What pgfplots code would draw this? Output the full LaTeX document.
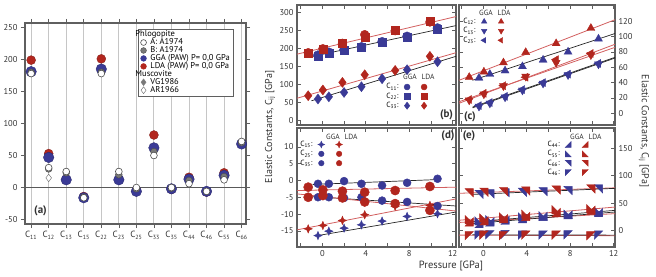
\documentclass[border=0pt]{standalone}
\usepackage{pgfplots}
\pgfplotsset{compat=1.18}
\usepackage{fontspec}
\setmainfont{PT Sans}
\definecolor{gblue}{RGB}{58,58,150}
\definecolor{lred}{RGB}{178,38,30}
\definecolor{lnred}{RGB}{210,95,95}
\definecolor{axgray}{RGB}{95,95,95}
\definecolor{txt}{RGB}{50,50,50}
\definecolor{bgray}{RGB}{120,120,120}

\pgfdeclareplotmark{star4}{%
 \pgfpathmoveto{\pgfpoint{0pt}{\pgfplotmarksize}}%
 \pgfpathlineto{\pgfpoint{0.3\pgfplotmarksize}{0.3\pgfplotmarksize}}%
 \pgfpathlineto{\pgfpoint{\pgfplotmarksize}{0pt}}%
 \pgfpathlineto{\pgfpoint{0.3\pgfplotmarksize}{-0.3\pgfplotmarksize}}%
 \pgfpathlineto{\pgfpoint{0pt}{-\pgfplotmarksize}}%
 \pgfpathlineto{\pgfpoint{-0.3\pgfplotmarksize}{-0.3\pgfplotmarksize}}%
 \pgfpathlineto{\pgfpoint{-\pgfplotmarksize}{0pt}}%
 \pgfpathlineto{\pgfpoint{-0.3\pgfplotmarksize}{0.3\pgfplotmarksize}}%
 \pgfpathclose\pgfusepathqfillstroke}
\pgfdeclareplotmark{rtBR}{%
 \pgfpathmoveto{\pgfpoint{\pgfplotmarksize}{-\pgfplotmarksize}}%
 \pgfpathlineto{\pgfpoint{\pgfplotmarksize}{\pgfplotmarksize}}%
 \pgfpathlineto{\pgfpoint{-\pgfplotmarksize}{-\pgfplotmarksize}}%
 \pgfpathclose\pgfusepathqfillstroke}
\pgfdeclareplotmark{rtBL}{%
 \pgfpathmoveto{\pgfpoint{-\pgfplotmarksize}{-\pgfplotmarksize}}%
 \pgfpathlineto{\pgfpoint{-\pgfplotmarksize}{\pgfplotmarksize}}%
 \pgfpathlineto{\pgfpoint{\pgfplotmarksize}{-\pgfplotmarksize}}%
 \pgfpathclose\pgfusepathqfillstroke}
\pgfdeclareplotmark{rtTR}{%
 \pgfpathmoveto{\pgfpoint{-\pgfplotmarksize}{\pgfplotmarksize}}%
 \pgfpathlineto{\pgfpoint{\pgfplotmarksize}{\pgfplotmarksize}}%
 \pgfpathlineto{\pgfpoint{\pgfplotmarksize}{-\pgfplotmarksize}}%
 \pgfpathclose\pgfusepathqfillstroke}
\pgfdeclareplotmark{rtTL}{%
 \pgfpathmoveto{\pgfpoint{-\pgfplotmarksize}{\pgfplotmarksize}}%
 \pgfpathlineto{\pgfpoint{\pgfplotmarksize}{\pgfplotmarksize}}%
 \pgfpathlineto{\pgfpoint{-\pgfplotmarksize}{-\pgfplotmarksize}}%
 \pgfpathclose\pgfusepathqfillstroke}

\pgfplotsset{
 panel/.style={scale only axis, anchor=south west,
   axis line style={axgray,line width=1.1pt},
   every tick/.style={axgray,line width=0.6pt},
   major tick length=4pt, minor tick length=4pt,
   tick label style={font=\fontsize{8.5}{9.5}\selectfont, text=txt},
   /pgf/number format/assume math mode=true},
 lgm/.style={legend image code/.code={\draw[##1] plot coordinates {(0pt,0pt)};}},
 mk/.style={only marks, mark options={draw=black!80, line width=0.3pt}},
 gg/.style={mk, color=gblue, mark options={fill=gblue}},
 ll/.style={mk, color=lred, mark options={fill=lred}},
 fitr/.style={lnred, line width=0.8pt, forget plot},
 fitk/.style={black!85, line width=0.7pt, forget plot},
 pleg/.style={legend plot pos=right, legend columns=2,
   legend style={draw=none, fill=none, font=\fontsize{7.5}{8.5}\selectfont,
     inner sep=0pt, /tikz/column sep=4.5pt, row sep=0.5pt,
     nodes={inner xsep=1pt, inner ysep=1pt}}},
 pb/.style={mk, lgm},
 al/.style={only marks, lgm, mark size=2.9pt},
}

\begin{document}
\begin{tikzpicture}[x=1pt,y=1pt]
\useasboundingbox (0,0) rectangle (656,276);

% ---------------- (a)
\begin{axis}[panel, at={(25pt,52pt)}, width=221pt, height=201pt,
 xmin=-0.35, xmax=12.25, ymin=-57, ymax=257,
 xtick={0,...,12},
 xticklabels={C\textsubscript{11},C\textsubscript{12},C\textsubscript{13},C\textsubscript{15},C\textsubscript{22},C\textsubscript{23},C\textsubscript{25},C\textsubscript{33},C\textsubscript{35},C\textsubscript{44},C\textsubscript{46},C\textsubscript{55},C\textsubscript{66}},
 x tick label style={font=\fontsize{9}{10}\selectfont},
 ytick={-50,0,...,250},
 tick align=outside, xtick pos=both, xticklabel pos=lower, ytick pos=both, yticklabel pos=left,
 xmajorgrids, major grid style={gray!45, line width=0.9pt},
 legend style={at={(0.941,0.972)}, anchor=north east, draw=axgray, fill=white,
   font=\fontsize{8.5}{9.5}\selectfont, inner xsep=2pt, inner ysep=1pt, row sep=-1.6pt,
   /tikz/column sep=3pt, nodes={inner ysep=1pt, inner xsep=1pt}},
 legend cell align=left]
\addplot[gray!70!black, line width=0.8pt, forget plot] coordinates {(-0.35,0) (12.25,0)};
\addplot[only marks, mark=diamond*, mark size=3.8pt, mark options={fill=bgray, draw=gray}, forget plot] coordinates {(1,30)};
\addplot[only marks, mark=diamond*, mark size=3.8pt, mark options={fill=white, draw=gray!80!black}, forget plot] coordinates {(1,15)};
\addplot[only marks, mark=*, mark size=4.5pt, mark options={fill=lred, draw=lred!70!black, line width=0.3pt}, forget plot] coordinates {
(0,199) (1,53) (2,13) (3,-14) (4,201) (5,13) (6,-4) (7,82) (8,-3) (9,16) (10,-7) (11,23) (12,69)};
\addplot[only marks, mark=*, mark size=5.3pt, mark options={fill=gblue, draw=gblue!70!black, line width=0.3pt}, forget plot] coordinates {
(0,181) (1,47) (2,12) (3,-16) (4,185) (5,12) (6,-6) (7,62) (8,-2) (9,13) (10,-6) (11,19) (12,68)};
\addplot[only marks, mark=*, mark size=3.4pt, mark options={fill=bgray, draw=gray!60!black, line width=0.4pt}, forget plot] coordinates {
(0,180) (1,29) (2,23) (3,-15) (4,180) (5,20) (6,-2) (7,56) (8,-1) (9,11) (10,-6) (11,17) (12,70)};
\addplot[only marks, mark=*, mark size=3.4pt, mark options={fill=white, draw=gray!60!black, line width=0.6pt}, forget plot] coordinates {
(0,178) (1,31) (2,25) (3,-16) (4,178) (5,25) (6,0) (7,50) (8,0) (9,6) (10,-6) (11,12) (12,72)};
\addlegendimage{empty legend}\addlegendentry{\hspace*{-15pt}Phlogopite}
\addlegendimage{al, mark=*, mark options={fill=white, draw=gray!60!black, line width=0.6pt}}\addlegendentry{A: A1974}
\addlegendimage{al, mark=*, mark options={fill=bgray, draw=gray!60!black}}\addlegendentry{B: A1974}
\addlegendimage{al, mark=*, mark options={fill=gblue, draw=gblue}}\addlegendentry{GGA (PAW) P= 0,0 GPa}
\addlegendimage{al, mark=*, mark options={fill=lred, draw=lred}}\addlegendentry{LDA (PAW) P= 0,0 GPa}
\addlegendimage{empty legend}\addlegendentry{\hspace*{-15pt}Muscovite}
\addlegendimage{al, mark=diamond*, mark size=3.4pt, mark options={fill=bgray, draw=gray}}\addlegendentry{VG1986}
\addlegendimage{al, mark=diamond*, mark size=3.4pt, mark options={fill=white, draw=gray!80!black}}\addlegendentry{AR1966}
\end{axis}

% ---------------- (b)
\begin{axis}[panel, pleg, at={(297pt,151pt)}, width=159pt, height=120pt,
 xmin=-2.33, xmax=12.3, ymin=-12, ymax=320,
 xtick={0,4,8,12}, minor xtick={-2,2,6,10}, xticklabels={},
 ytick={0,50,...,300}, xtick pos=both, ytick pos=both, yticklabel pos=left,
 legend style={at={(0.555,0.355)}, anchor=north west}]
\addplot[fitr] coordinates {(-2.33,184) (12.3,288)};
\addplot[fitk] coordinates {(-1,177) (12.3,263)};
\addplot[fitr] coordinates {(-2.33,62) (12.3,188)};
\addplot[fitk] coordinates {(-1,55) (12.3,178)};
\addplot[gg, mark=square*, mark size=4pt, forget plot] coordinates {(-0.4,179) (0.6,187) (2.0,195) (3.6,203) (5.5,216) (7.8,232) (10.6,254)};
\addplot[gg, mark=*, mark size=4.6pt, forget plot] coordinates {(-0.4,181) (0.6,189) (2.0,196) (3.6,204) (5.5,218) (7.8,233) (10.6,256)};
\addplot[gg, mark=diamond*, mark size=5pt, forget plot] coordinates {(-0.4,60) (0.6,66) (2.0,78) (3.6,94) (5.5,116) (7.8,141) (10.6,163)};
\addplot[ll, mark=*, mark size=4.4pt, forget plot] coordinates {(-1.3,188) (0.05,199) (1.85,214) (3.9,238) (6.7,249) (9.9,273)};
\addplot[ll, mark=square*, mark size=4pt, forget plot] coordinates {(-1.3,187) (0.05,199) (1.85,215) (3.9,232) (6.7,250) (9.9,274)};
\addplot[ll, mark=diamond*, mark size=5pt, forget plot] coordinates {(-1.3,69) (0.05,85) (1.85,106) (3.9,127) (6.7,139) (9.9,178)};
\addlegendimage{pb, gblue, mark=*, mark size=3pt, mark options={fill=gblue}}\addlegendentry{C\textsubscript{11}:}
\addlegendimage{pb, lred, mark=*, mark size=3pt, mark options={fill=lred}}\addlegendentry{}
\addlegendimage{pb, gblue, mark=square*, mark size=3pt, mark options={fill=gblue}}\addlegendentry{C\textsubscript{22}:}
\addlegendimage{pb, lred, mark=square*, mark size=3pt, mark options={fill=lred}}\addlegendentry{}
\addlegendimage{pb, gblue, mark=diamond*, mark size=3.6pt, mark options={fill=gblue}}\addlegendentry{C\textsubscript{33}:}
\addlegendimage{pb, lred, mark=diamond*, mark size=3.6pt, mark options={fill=lred}}\addlegendentry{}
\end{axis}

% ---------------- (c)
\begin{axis}[panel, pleg, at={(459pt,151pt)}, width=156pt, height=120pt,
 xmin=-2.24, xmax=12.12, ymin=-15.3, ymax=141.2,
 xtick={0,4,8,12}, minor xtick={-2,2,6,10}, xticklabels={},
 ytick={0,20,...,120}, xtick pos=both, ytick pos=both, yticklabel pos=right,
 legend style={at={(0.02,0.9)}, anchor=north west}]
\addplot[fitr] coordinates {(-2.24,43) (12.12,122)};
\addplot[fitk] coordinates {(-1,43) (12.12,104)};
\addplot[fitr] coordinates {(-2.24,13) (12.12,90)};
\addplot[fitr] coordinates {(-2.24,15) (12.12,86)};
\addplot[fitk] coordinates {(-1,7) (12.12,72)};
\addplot[fitk] coordinates {(-1,8) (12.12,73)};
\addplot[gg, mark=triangle*, mark size=4.6pt, forget plot] coordinates {(-0.4,46) (0.6,51) (2.0,55.5) (3.6,61) (5.5,69.5) (7.8,80) (10.6,97)};
\addplot[gg, mark=triangle*, mark size=4.6pt, mark options={rotate=90}, forget plot] coordinates {(-0.4,10) (0.6,14) (2.0,22) (3.6,31) (5.5,40) (7.8,51) (10.6,65)};
\addplot[gg, mark=triangle*, mark size=4.6pt, mark options={rotate=180}, forget plot] coordinates {(-0.4,9) (0.6,13) (2.0,21) (3.6,30) (5.5,39) (7.8,50) (10.6,64)};
\addplot[ll, mark=triangle*, mark size=4.6pt, forget plot] coordinates {(-1.3,47) (0.05,54) (1.85,66) (3.9,79.5) (6.7,91) (9.9,111)};
\addplot[ll, mark=triangle*, mark size=4.6pt, mark options={rotate=90}, forget plot] coordinates {(-1.3,18) (0.05,26) (1.85,36) (3.9,47) (6.7,70) (9.9,78)};
\addplot[ll, mark=triangle*, mark size=4.6pt, mark options={rotate=180}, forget plot] coordinates {(-1.3,17) (0.05,25) (1.85,35.6) (3.9,48) (6.7,66) (9.9,76)};
\addlegendimage{pb, gblue, mark=triangle*, mark size=3.2pt, mark options={fill=gblue}}\addlegendentry{C\textsubscript{12}:}
\addlegendimage{pb, lred, mark=triangle*, mark size=3.2pt, mark options={fill=lred}}\addlegendentry{}
\addlegendimage{pb, gblue, mark=triangle*, mark size=3.2pt, mark options={fill=gblue, rotate=180}}\addlegendentry{C\textsubscript{13}:}
\addlegendimage{pb, lred, mark=triangle*, mark size=3.2pt, mark options={fill=lred, rotate=180}}\addlegendentry{}
\addlegendimage{pb, gblue, mark=triangle*, mark size=3.2pt, mark options={fill=gblue, rotate=90}}\addlegendentry{C\textsubscript{23}:}
\addlegendimage{pb, lred, mark=triangle*, mark size=3.2pt, mark options={fill=lred, rotate=90}}\addlegendentry{}
\end{axis}

% ---------------- (d)
\begin{axis}[panel, pleg, at={(297pt,29pt)}, width=159pt, height=119pt,
 xmin=-2.33, xmax=12.3, ymin=-19.8, ymax=15.6,
 xtick={0,4,8,12}, minor xtick={-2,2,6,10},
 ytick={-15,-10,...,10}, xtick pos=both, xticklabel pos=lower, ytick pos=both, yticklabel pos=left,
 legend style={at={(0.013,0.9)}, anchor=north west}]
\addplot[fitk] coordinates {(-0.9,-1.2) (10.9,0.3)};
\addplot[fitr] coordinates {(-2.33,-3) (12.3,-2)};
\addplot[fitk] coordinates {(-0.9,-4.8) (12.3,-7.6)};
\addplot[fitr] coordinates {(-2.33,-4) (12.3,-9.1)};
\addplot[fitr] coordinates {(-2.33,-14.7) (12.3,-5.5)};
\addplot[fitk] coordinates {(-0.6,-16.5) (12.3,-9.4)};
\addplot[gg, mark=*, mark size=4pt, forget plot] coordinates {(-0.4,-1.0) (0.6,-1.0) (2.0,-0.2) (3.6,-1.0) (5.5,-1.5) (7.8,-0.7) (10.6,0.5)};
\addplot[gg, mark=*, mark size=4pt, forget plot] coordinates {(-0.4,-5.0) (0.6,-5.0) (2.0,-5.2) (3.6,-5.0) (5.5,-6.0) (7.8,-6.4) (10.6,-7.6)};
\addplot[gg, mark=star4, mark size=4.2pt, forget plot] coordinates {(-0.4,-16.4) (0.6,-15.1) (2.0,-14.2) (3.6,-13.2) (5.5,-12.1) (7.8,-10.7) (10.6,-9.9)};
\addplot[ll, mark=*, mark size=4.6pt, forget plot] coordinates {(-1.3,-2.0) (0.05,-2.8) (1.85,-3.2) (3.9,-3.5) (6.7,-3.0) (9.9,-1.8)};
\addplot[ll, mark=*, mark size=4.6pt, forget plot] coordinates {(-1.3,-5.0) (0.05,-4.5) (1.85,-5.2) (3.9,-6.4) (6.7,-6.9) (9.9,-8.9)};
\addplot[ll, mark=star4, mark size=4.2pt, forget plot] coordinates {(-1.3,-14.4) (0.05,-13.4) (1.85,-11.9) (3.9,-10.2) (6.7,-7.7) (9.9,-7.4)};
\addlegendimage{pb, gblue, mark=star4, mark size=3.4pt, mark options={fill=gblue}}\addlegendentry{C\textsubscript{15}:}
\addlegendimage{pb, lred, mark=star4, mark size=3.4pt, mark options={fill=lred}}\addlegendentry{}
\addlegendimage{pb, gblue, mark=*, mark size=2.8pt, mark options={fill=gblue}}\addlegendentry{C\textsubscript{25}:}
\addlegendimage{pb, lred, mark=*, mark size=2.8pt, mark options={fill=lred}}\addlegendentry{}
\addlegendimage{pb, gblue, mark=*, mark size=2.8pt, mark options={fill=gblue}}\addlegendentry{C\textsubscript{35}:}
\addlegendimage{pb, lred, mark=*, mark size=2.8pt, mark options={fill=lred}}\addlegendentry{}
\end{axis}

% ---------------- (e)
\begin{axis}[panel, pleg, at={(459pt,29pt)}, width=156pt, height=119pt,
 xmin=-2.24, xmax=12.12, ymin=-29.6, ymax=186.7,
 xtick={0,4,8,12}, minor xtick={-2,2,6,10},
 ytick={0,50,...,150}, xtick pos=both, xticklabel pos=lower, ytick pos=both, yticklabel pos=right,
 legend style={at={(0.56,0.9)}, anchor=north west}]
\addplot[fitr] coordinates {(-2.24,68) (12.12,78)};
\addplot[fitk] coordinates {(-1,66) (12.12,77)};
\addplot[fitr] coordinates {(-2.24,19) (12.12,43)};
\addplot[fitr] coordinates {(-2.24,15) (12.12,31)};
\addplot[fitk] coordinates {(-1,16) (12.12,37)};
\addplot[fitk] coordinates {(-1,13) (12.12,34)};
\addplot[fitr] coordinates {(-2.24,-8) (12.12,-9)};
\addplot[fitk] coordinates {(-1,-7.5) (12.12,-8)};
\addplot[gg, mark=rtTR, mark size=4.2pt, forget plot] coordinates {(-0.4,66) (0.6,67) (2.0,69) (3.6,70) (5.5,71) (7.8,73) (10.6,76)};
\addplot[gg, mark=rtBR, mark size=4.2pt, forget plot] coordinates {(-0.4,13) (0.6,16) (2.0,19) (3.6,22) (5.5,26) (7.8,29) (10.6,33)};
\addplot[gg, mark=rtBL, mark size=4.2pt, forget plot] coordinates {(-0.4,18) (0.6,20) (2.0,22) (3.6,25) (5.5,27) (7.8,30) (10.6,35)};
\addplot[gg, mark=rtTL, mark size=4.2pt, forget plot] coordinates {(-0.4,-8) (0.6,-7.5) (2.0,-7) (3.6,-8) (5.5,-8) (7.8,-7.5) (10.6,-8)};
\addplot[ll, mark=rtTR, mark size=4.2pt, forget plot] coordinates {(-1.3,69) (0.05,70) (1.85,71) (3.9,72) (6.7,74) (9.9,76)};
\addplot[ll, mark=rtBR, mark size=4.2pt, forget plot] coordinates {(-1.3,16) (0.05,18) (1.85,22) (3.9,26) (6.7,33) (9.9,37)};
\addplot[ll, mark=rtBL, mark size=4.2pt, forget plot] coordinates {(-1.3,20) (0.05,23) (1.85,25) (3.9,30) (6.7,38) (9.9,40)};
\addplot[ll, mark=rtTL, mark size=4.2pt, forget plot] coordinates {(-1.3,-9) (0.05,-8) (1.85,-9) (3.9,-8) (6.7,-8) (9.9,-9)};
\addlegendimage{pb, gblue, mark=rtBR, mark size=3pt, mark options={fill=gblue}}\addlegendentry{C\textsubscript{44}:}
\addlegendimage{pb, lred, mark=rtBR, mark size=3pt, mark options={fill=lred}}\addlegendentry{}
\addlegendimage{pb, gblue, mark=rtBL, mark size=3pt, mark options={fill=gblue}}\addlegendentry{C\textsubscript{55}:}
\addlegendimage{pb, lred, mark=rtBL, mark size=3pt, mark options={fill=lred}}\addlegendentry{}
\addlegendimage{pb, gblue, mark=rtTR, mark size=3pt, mark options={fill=gblue}}\addlegendentry{C\textsubscript{66}:}
\addlegendimage{pb, lred, mark=rtTR, mark size=3pt, mark options={fill=lred}}\addlegendentry{}
\addlegendimage{pb, gblue, mark=rtTL, mark size=3pt, mark options={fill=gblue}}\addlegendentry{C\textsubscript{46}:}
\addlegendimage{pb, lred, mark=rtTL, mark size=3pt, mark options={fill=lred}}\addlegendentry{}
\end{axis}

% ---------------- texts
\node[rotate=90, font=\fontsize{10}{12}\selectfont, text=txt] at (270,149) {Elastic Constants, C\textsubscript{ij} [GPa]};
\node[rotate=-90, font=\fontsize{10}{12}\selectfont, text=txt] at (644,145) {Elastic Constants, C\textsubscript{ij} [GPa]};
\node[font=\fontsize{10.5}{12}\selectfont, text=txt] at (451,10) {Pressure [GPa]};
\begin{scope}[every node/.style={font=\bfseries\fontsize{11}{12}\selectfont, text=txt}]
\node at (40.5,65) {(a)};
\node at (446.5,161) {(b)};
\node at (470,159) {(c)};
\node at (448,140) {(d)};
\node at (469,140) {(e)};
\end{scope}
\begin{scope}[every node/.style={font=\fontsize{7.5}{8}\selectfont, text=txt}]
\node at (410,199) {GGA}; \node at (428,199) {LDA};
\node at (486,263) {GGA}; \node at (504,263) {LDA};
\node at (333,139.3) {GGA}; \node at (351,139.3) {LDA};
\node at (577,139.3) {GGA}; \node at (595,139.3) {LDA};
\end{scope}
\end{tikzpicture}
\end{document}
